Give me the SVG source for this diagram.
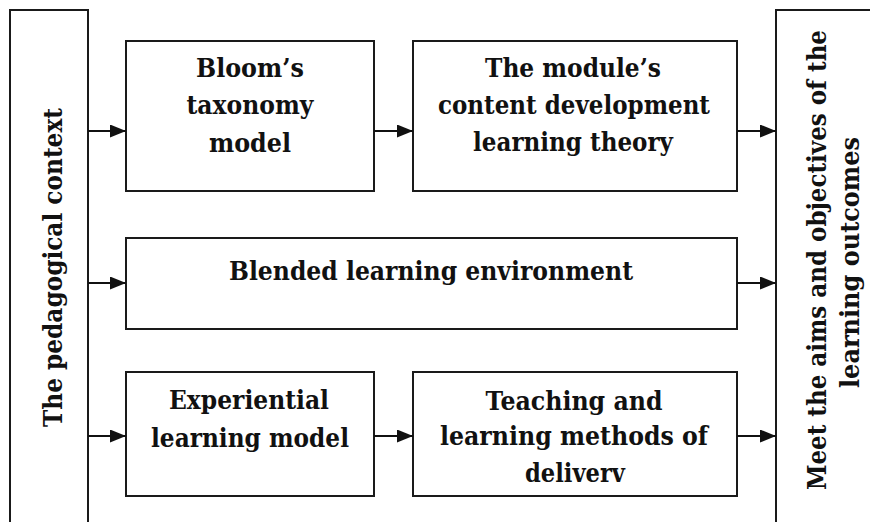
<svg xmlns="http://www.w3.org/2000/svg" width="870" height="522" viewBox="0 0 870 522">
<style>
.box{fill:#fff;stroke:#1a1a1a;stroke-width:2}
.frame{fill:none;stroke:#1a1a1a;stroke-width:2}
.t{font-family:"DejaVu Serif","Liberation Serif",serif;font-weight:bold;font-size:26px;fill:#111;text-anchor:middle}
.c{stroke:#111;stroke-width:2;fill:none;marker-end:url(#ah)}
</style>
<defs>
<marker id="ah" markerUnits="userSpaceOnUse" markerWidth="16" markerHeight="13" refX="16" refY="6.5" orient="auto">
<path d="M0,0 L16,6.5 L0,13 z" fill="#111"/>
</marker>
</defs>
<rect width="870" height="522" fill="#fff"/>
<g id="pedagogical-context">
<path class="frame" d="M10,522 V10 H88 V522"/>
<text class="t" transform="translate(62,267.5) rotate(-90)" textLength="319" lengthAdjust="spacingAndGlyphs">The pedagogical context</text>
</g>
<g id="outcomes">
<path class="frame" d="M776,522 V10 H871"/>
<text class="t" transform="translate(826,260) rotate(-90)" textLength="460" lengthAdjust="spacingAndGlyphs">Meet the aims and objectives of the</text>
<text class="t" transform="translate(859,262.5) rotate(-90)" textLength="251" lengthAdjust="spacingAndGlyphs">learning outcomes</text>
</g>
<g id="bloom">
<rect class="box" x="126" y="41" width="248" height="150"/>
<text class="t" x="250" y="77" textLength="108" lengthAdjust="spacingAndGlyphs">Bloom’s</text>
<text class="t" x="250" y="114" textLength="127" lengthAdjust="spacingAndGlyphs">taxonomy</text>
<text class="t" x="250" y="152" textLength="82" lengthAdjust="spacingAndGlyphs">model</text>
</g>
<g id="module">
<rect class="box" x="413" y="41" width="324" height="150"/>
<text class="t" x="573" y="77" textLength="176" lengthAdjust="spacingAndGlyphs">The module’s</text>
<text class="t" x="574" y="114" textLength="272" lengthAdjust="spacingAndGlyphs">content development</text>
<text class="t" x="573" y="151" textLength="200" lengthAdjust="spacingAndGlyphs">learning theory</text>
</g>
<g id="blended">
<rect class="box" x="126" y="238" width="611" height="91"/>
<text class="t" x="431" y="280" textLength="404" lengthAdjust="spacingAndGlyphs">Blended learning environment</text>
</g>
<g id="experiential">
<rect class="box" x="126" y="372" width="248" height="124"/>
<text class="t" x="249" y="409" textLength="160" lengthAdjust="spacingAndGlyphs">Experiential</text>
<text class="t" x="250" y="447" textLength="198" lengthAdjust="spacingAndGlyphs">learning model</text>
</g>
<g id="teaching">
<rect class="box" x="413" y="372" width="324" height="124"/>
<text class="t" x="574" y="410" textLength="177" lengthAdjust="spacingAndGlyphs">Teaching and</text>
<text class="t" x="574" y="445" textLength="268" lengthAdjust="spacingAndGlyphs">learning methods of</text>
<text class="t" x="575" y="482" textLength="100" lengthAdjust="spacingAndGlyphs">deliverv</text>
</g>
<g id="connectors">
<line class="c" x1="88" y1="131" x2="126" y2="131"/>
<line class="c" x1="374" y1="131" x2="413" y2="131"/>
<line class="c" x1="737" y1="131" x2="776" y2="131"/>
<line class="c" x1="88" y1="283" x2="126" y2="283"/>
<line class="c" x1="737" y1="283" x2="776" y2="283"/>
<line class="c" x1="88" y1="436" x2="126" y2="436"/>
<line class="c" x1="374" y1="436" x2="413" y2="436"/>
<line class="c" x1="737" y1="436" x2="776" y2="436"/>
</g>
</svg>
